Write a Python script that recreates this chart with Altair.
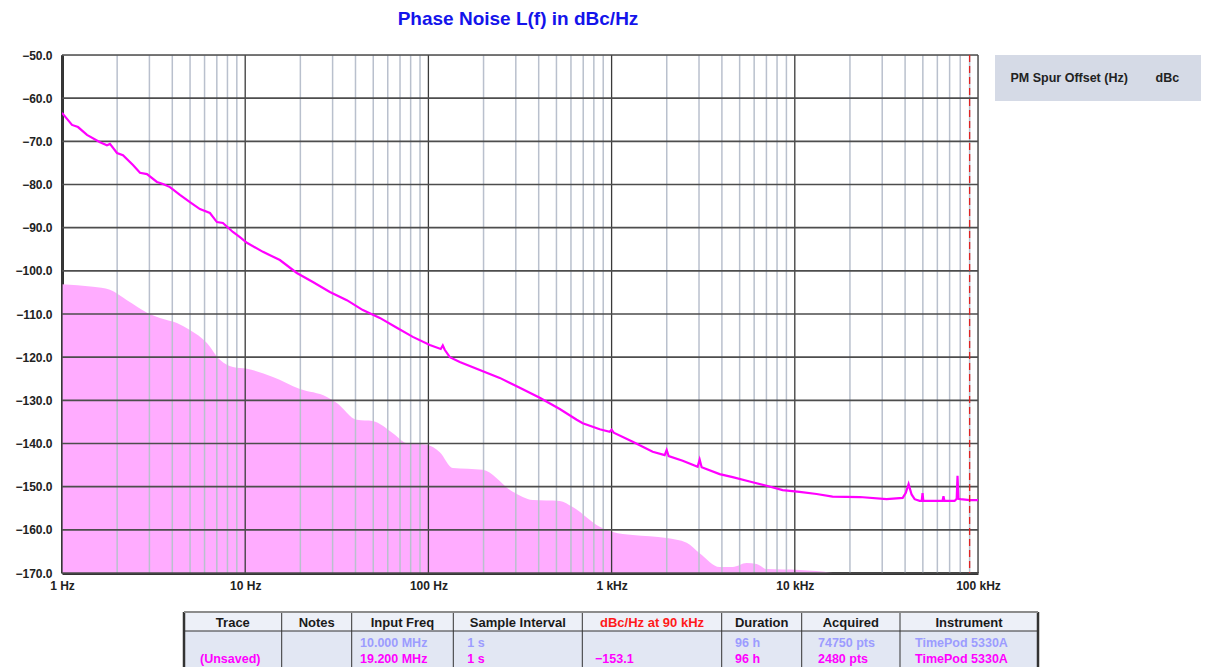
import altair as alt
import pandas as pd

# ---------------- data ----------------
line_freq = [1.0, 1.134, 1.223, 1.369, 1.612, 1.760, 1.827, 1.996, 2.152, 2.440,
             2.665, 2.909, 3.298, 3.556, 3.884, 4.403, 4.992, 5.661, 6.418, 7.009,
             7.554, 8.567, 9.357, 10.22, 12.50, 15.46, 19.14, 23.41, 28.98, 35.88,
             43.87, 54.31, 67.24, 82.21, 101.8, 116.8, 119.8, 122.8, 130.9, 148.3,
             245.2, 315.3, 405.3, 521.2, 645.0, 695.6, 861.3, 976.3, 1000, 1027,
             1304, 1676, 1949, 1998, 2049, 2443, 2949, 3024, 3101, 3888,
             4579, 5668, 7018, 8579, 10620, 13150, 16070, 22600, 31700, 38800,
             40300, 41800, 43400, 45100, 48000, 49300, 49800, 50300, 64000, 64800,
             65600, 74500, 76500, 77300, 78200, 80300, 89900, 100000]
line_dbc = [-63.4, -66.2, -66.7, -68.5, -70.2, -70.9, -70.6, -72.7, -73.2, -75.5,
            -77.3, -77.6, -79.4, -79.9, -80.6, -82.4, -84.1, -85.7, -86.6, -88.7,
            -88.9, -91.0, -92.2, -93.5, -95.6, -97.5, -100.5, -102.6, -104.9, -106.8,
            -109.1, -110.9, -113.2, -115.3, -117.2, -118.1, -117.3, -118.3, -120.0, -121.1,
            -124.8, -127.1, -129.4, -132.0, -134.5, -135.3, -136.7, -137.3, -136.8, -137.5,
            -139.6, -141.9, -142.7, -141.5, -142.9, -144.0, -145.4, -143.7, -145.5, -147.1,
            -147.8, -148.8, -149.8, -150.8, -151.2, -151.7, -152.3, -152.4, -152.9, -152.6,
            -151.5, -149.4, -151.8, -152.9, -153.3, -153.3, -151.5, -153.3, -153.3, -152.2,
            -153.3, -153.3, -152.8, -147.5, -152.8, -152.9, -153.1, -153.1]

area_freq = [1.0, 1.476, 1.827, 2.262, 2.946, 3.424, 4.240, 4.992, 6.182, 7.278,
             8.567, 10.22, 14.16, 19.88, 27.91, 31.64, 40.68, 49.74, 63.95, 76.24,
             98.01, 115.4, 135.9, 198.1, 288.7, 371.1, 521.2, 613.5, 861.3, 1014,
             1304, 1998, 2569, 3024, 3888, 4579, 5459, 6189, 7018, 10620,
             16070, 20000, 100000]
area_dbc = [-103.1, -103.7, -104.4, -106.8, -109.8, -110.9, -112.1, -113.7, -116.7, -120.6,
            -122.3, -122.7, -124.6, -127.4, -129.2, -130.6, -134.5, -134.8, -137.6, -139.9,
            -140.3, -142.0, -145.7, -146.1, -151.2, -153.1, -153.3, -154.7, -159.3, -160.5,
            -161.2, -161.9, -163.0, -165.4, -168.6, -168.6, -167.7, -167.9, -169.1, -169.3,
            -170.0, -171.0, -171.0]

spot_freq = [90000]
x_major = [1, 10, 100, 1000, 10000, 100000]
x_minor_mult = [2, 3, 4, 5, 6, 7, 8, 9]
y_ticks = [-50, -60, -70, -80, -90, -100, -110, -120, -130, -140, -150, -160, -170]
y_domain = [-170, -50]

title_text = "Phase Noise L(f) in dBc/Hz"
legend_labels = ["PM Spur Offset (Hz)", "dBc"]
table_headers = ["Trace", "Notes", "Input Freq", "Sample Interval", "dBc/Hz at 90 kHz",
                 "Duration", "Acquired", "Instrument"]
row_ref = ["", "", "10.000 MHz", "1 s", "", "96 h", "74750 pts", "TimePod 5330A"]
row_dut = ["(Unsaved)", "", "19.200 MHz", "1 s", "\u2212153.1", "96 h", "2480 pts", "TimePod 5330A"]

# ---------------- layout / style ----------------
W, H = 916, 518
FONT = "Liberation Sans"
BG = "#e2e7f3"
MAGENTA = "#ff00ff"
PINK = "#ffacff"
REF_COL = "#9c9cff"

xs = alt.Scale(type="log", domain=[1, 100000], nice=False)
ys = alt.Scale(domain=y_domain, nice=False, zero=False)

one = pd.DataFrame({"k": [0]})

line_df = pd.DataFrame({"f": line_freq, "db": line_dbc})
area_df = pd.DataFrame({"f": area_freq, "db": area_dbc})
minor_df = pd.DataFrame({"f": [m * d for d in x_major[:-1] for m in x_minor_mult]})
major_df = pd.DataFrame({"f": x_major})
h_df = pd.DataFrame({"v": y_ticks})
spot_df = pd.DataFrame({"f": spot_freq})

x_axis = alt.Axis(values=x_major, grid=False, ticks=False, domain=True,
                  domainColor="#333333", domainWidth=3, title=None,
                  labelExpr="datum.value >= 1000 ? format(datum.value/1000,'d') + ' kHz' : format(datum.value,'d') + ' Hz'",
                  labelFont=FONT, labelFontSize=12, labelFontWeight="bold",
                  labelColor="#222222", labelPadding=7, labelFlush=False,
                  labelOverlap=False)
y_axis = alt.Axis(values=y_ticks, format=".1f", grid=False, ticks=False, domain=True,
                  domainColor="#333333", domainWidth=3, title=None,
                  labelFont=FONT, labelFontSize=12, labelFontWeight="bold",
                  labelColor="#222222", labelPadding=10, labelFlush=False,
                  labelOverlap=False)

area = alt.Chart(area_df).mark_area(color=PINK, interpolate="monotone", clip=True).encode(
    x=alt.X("f:Q", scale=xs, axis=x_axis),
    y=alt.Y("db:Q", scale=ys, axis=y_axis),
    y2=alt.datum(-170),
)

minor_rules = alt.Chart(minor_df).mark_rule(color="#b9c0cd", strokeWidth=1.5).encode(
    x=alt.X("f:Q", scale=xs))
major_rules = alt.Chart(major_df).mark_rule(color="#3a3a3a", strokeWidth=1.3).encode(
    x=alt.X("f:Q", scale=xs))
h_rules = alt.Chart(h_df).mark_rule(color="#4d4d4d", strokeWidth=1.6).encode(
    y=alt.Y("v:Q", scale=ys))

line = alt.Chart(line_df).mark_line(color=MAGENTA, strokeWidth=2.2, clip=True).encode(
    x=alt.X("f:Q", scale=xs),
    y=alt.Y("db:Q", scale=ys),
)

spot = alt.Chart(spot_df).mark_rule(color="#dd2222", strokeDash=[7, 4], strokeWidth=1.3).encode(
    x=alt.X("f:Q", scale=xs))

layers = [area, minor_rules, major_rules, h_rules, line, spot]

# title
layers.append(alt.Chart(one).mark_text(text=title_text, font=FONT, fontSize=19, fontWeight="bold",
                                       color="#1414eb", align="center", baseline="alphabetic").encode(
    x=alt.value(456), y=alt.value(-30)))

# spur legend box
layers.append(alt.Chart(one).mark_rect(color="#d5dae6").encode(
    x=alt.value(933), x2=alt.value(1150), y=alt.value(0), y2=alt.value(46)))
for txt, px in zip(legend_labels, [948.5, 1093.5]):
    layers.append(alt.Chart(one).mark_text(text=txt, font=FONT, fontSize=12.5, fontWeight="bold",
                                           color="#222222", align="left", baseline="alphabetic").encode(
        x=alt.value(px), y=alt.value(26.7)))

# table
col_edges = [122, 219.7, 289.7, 391.3, 520.3, 659.7, 739.7, 838, 976]
data_x = [138, 229, 298, 405.3, 533, 673, 756, 853]
T_TOP, T_HDR, T_BOT = 557, 576, 620
layers.append(alt.Chart(one).mark_rect(color="#edf0f8").encode(
    x=alt.value(col_edges[0]), x2=alt.value(col_edges[-1]), y=alt.value(T_TOP), y2=alt.value(T_HDR)))
layers.append(alt.Chart(one).mark_rect(color=BG).encode(
    x=alt.value(col_edges[0]), x2=alt.value(col_edges[-1]), y=alt.value(T_HDR), y2=alt.value(T_BOT)))
for i, e in enumerate(col_edges):
    outer = i in (0, len(col_edges) - 1)
    layers.append(alt.Chart(one).mark_rule(color="#333333", strokeWidth=2.5 if outer else 1).encode(
        x=alt.value(e), y=alt.value(T_TOP), y2=alt.value(T_BOT)))
layers.append(alt.Chart(one).mark_rule(color="#8c8c8c", strokeWidth=2).encode(
    x=alt.value(col_edges[0]), x2=alt.value(col_edges[-1]), y=alt.value(T_TOP)))
layers.append(alt.Chart(one).mark_rule(color="#333333", strokeWidth=1).encode(
    x=alt.value(col_edges[0]), x2=alt.value(col_edges[-1]), y=alt.value(T_HDR)))

for i, h in enumerate(table_headers):
    cx = (col_edges[i] + col_edges[i + 1]) / 2
    layers.append(alt.Chart(one).mark_text(text=h, font=FONT, fontSize=13, fontWeight="bold",
                                           color="#ff1a1a" if i == 4 else "#1a1a1a",
                                           align="center", baseline="alphabetic").encode(
        x=alt.value(cx), y=alt.value(571.5)))
for row, col, yb in [(row_ref, REF_COL, 592), (row_dut, MAGENTA, 608)]:
    for i, t in enumerate(row):
        if t:
            layers.append(alt.Chart(one).mark_text(text=t, font=FONT, fontSize=12.5, fontWeight="bold",
                                                   color=col, align="left", baseline="alphabetic").encode(
                x=alt.value(data_x[i]), y=alt.value(yb)))

chart = alt.layer(*layers).properties(
    width=W, height=H,
    autosize=alt.AutoSizeParams(type="none"),
    padding={"left": 54, "top": 47, "right": 223, "bottom": 94},
).configure_view(stroke="#333333", strokeWidth=2, fill=BG).configure(background="white")

chart.save("out.html", embed_options={"renderer": "svg", "actions": False})
